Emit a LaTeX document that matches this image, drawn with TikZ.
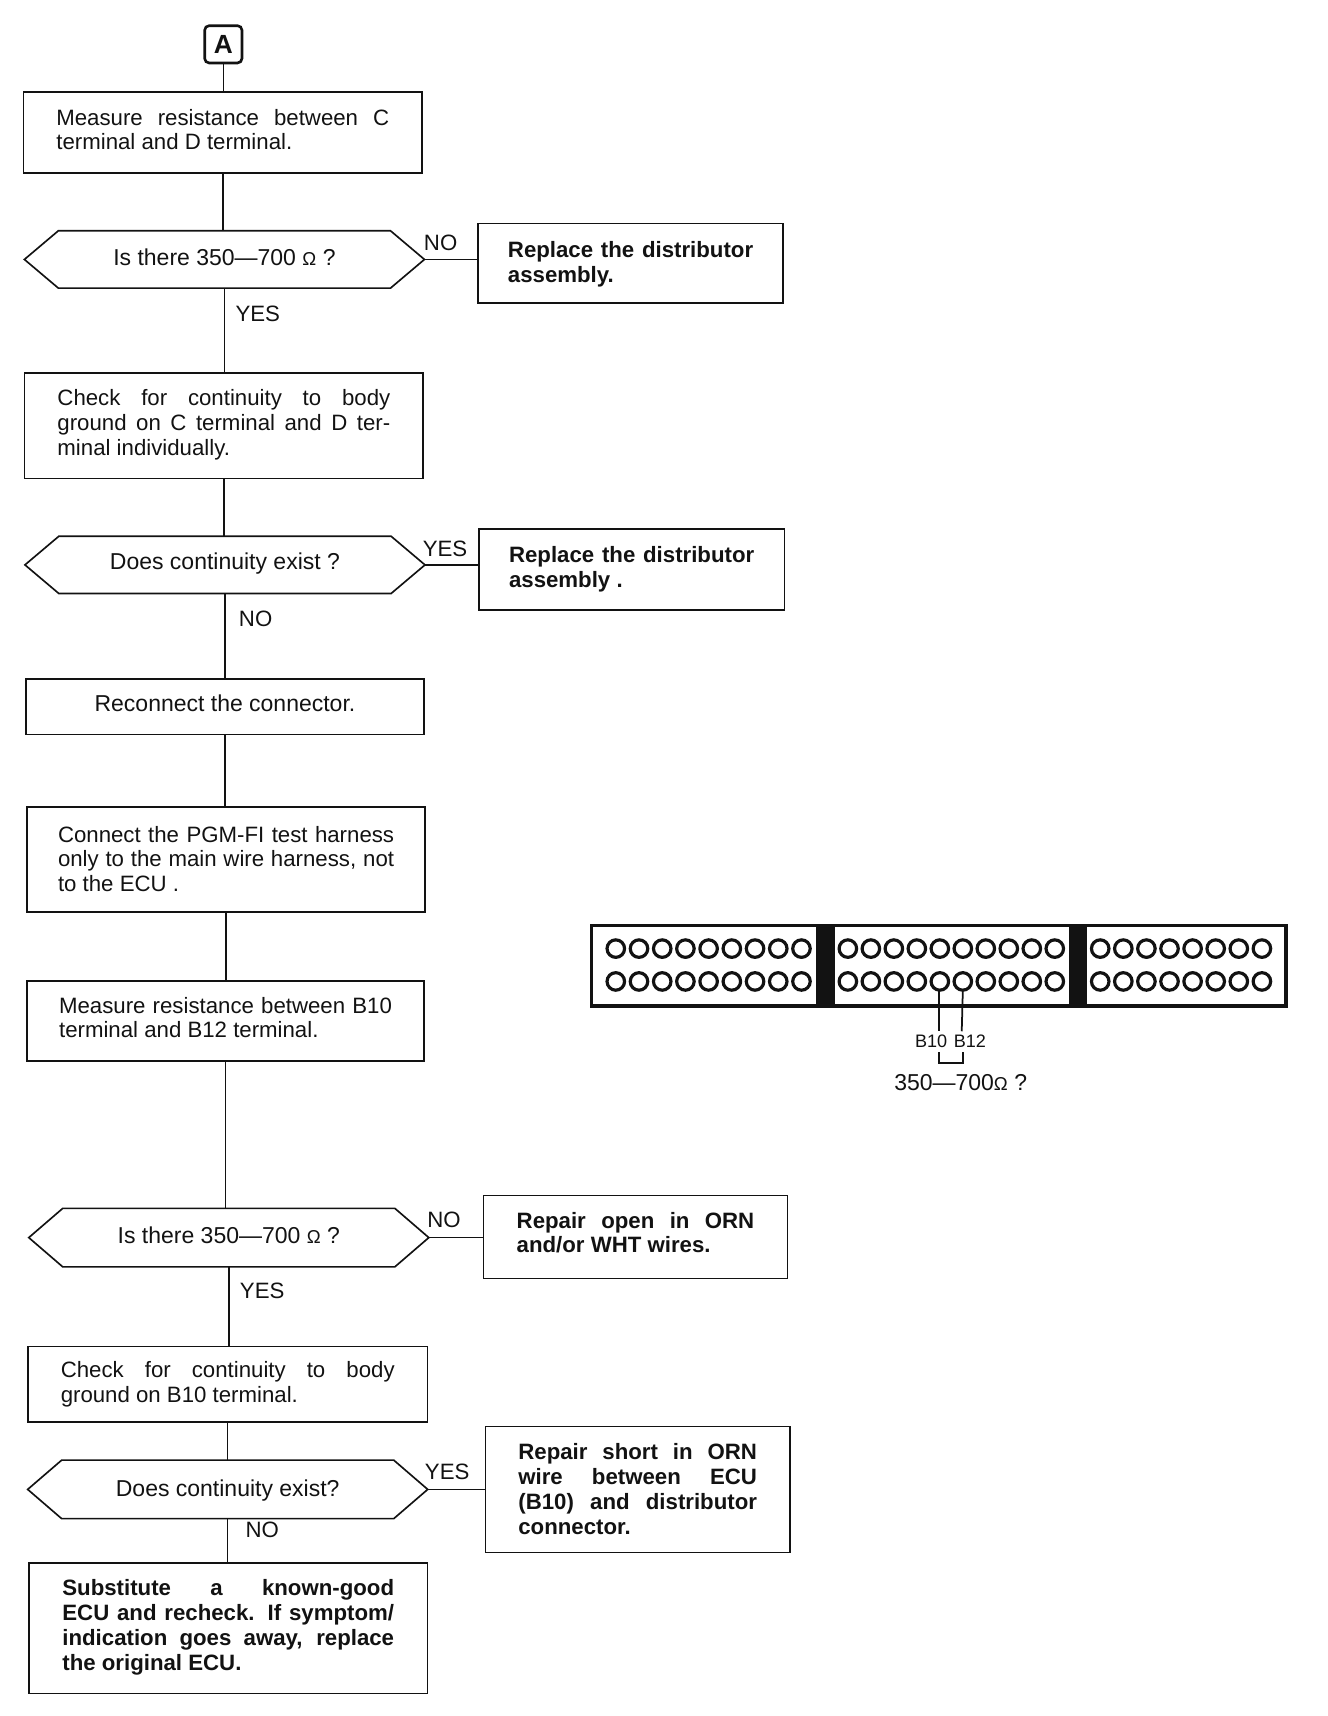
\documentclass[tikz,border=0pt]{standalone}
\usepackage{fontspec}
\setmainfont{Liberation Sans}
\definecolor{ink}{gray}{0.07}
\hyphenpenalty=10000
\tolerance=9999
\hbadness=10000
\hfuzz=4pt
\newcommand{\om}{{\fontsize{17}{17}\selectfont Ω}}
\newcommand{\up}[2]{\raisebox{#1pt}[\height][\depth]{#2}}
\newcommand{\para}[3]{\raisebox{#2pt}[\height][\depth]{\parbox[c]{#1pt}{#3}}}
\newcommand{\hexout}[1]{\draw[ink,line width=1.5pt] (#1.west) -- ([xshift=31pt]#1.north west) -- ([xshift=-31pt]#1.north east) -- (#1.east) -- ([xshift=-31pt]#1.south east) -- ([xshift=31pt]#1.south west) -- cycle;}
\tikzset{
  x=1pt,y=-1pt,
  every node/.style={text=ink},
  base/.style={font=\fontsize{20.3}{22.6}\selectfont},
  wide/.style={font=\fontsize{21}{22.6}\selectfont},
  flowbox/.style={base,draw=ink,line width=1.5pt,inner sep=0pt},
  boldbox/.style={flowbox,font=\fontsize{20.3}{22.8}\selectfont\bfseries},
  hexbox/.style={wide,inner sep=0pt,minimum width=365pt,minimum height=52pt},
  tag/.style={base,inner sep=0pt},
  small/.style={inner sep=0pt,font=\fontsize{16.5}{17}\selectfont},
  link/.style={draw=ink,line width=1.4pt},
  pinline/.style={draw=ink,line width=1.6pt},
  pin/.style={draw=ink,line width=2.9pt},
}
\begin{document}
\begin{tikzpicture}
\useasboundingbox (0.5,0) rectangle (1213.5,1567.5);
\node[draw=ink,line width=2.4pt,rounded corners=4pt,minimum width=34pt,minimum height=34pt,inner sep=0pt,font=\fontsize{24}{24}\selectfont\bfseries] (a) at (204.5,40.5) {A};
\node[flowbox,minimum width=364pt,minimum height=74pt] (b1) at (204,121) {\para{304}{2.7}{Measure resistance between C\linebreak terminal and D terminal.}};
\node[hexbox] (d1) at (205.5,237) {\up{2}{Is there 350—700 \om\ ?}};
\node[boldbox,minimum width=279pt,minimum height=73pt] (r1) at (576.5,240.5) {\para{224}{-1}{Replace the distributor\linebreak assembly.}};
\node[flowbox,minimum width=364pt,minimum height=96pt] (b2) at (205,389) {\para{304}{1}{Check for continuity to body\linebreak ground on C terminal and D ter-\linebreak minal individually.}};
\node[hexbox] (d2) at (206,516) {\up{1}{Does continuity exist ?}};
\node[boldbox,minimum width=279pt,minimum height=74pt] (r2) at (577.5,520) {\para{224}{0}{Replace the distributor\linebreak assembly .}};
\node[flowbox,wide,minimum width=364pt,minimum height=51pt] (b3) at (206,645.5) {\up{3.5}{Reconnect the connector.}};
\node[flowbox,minimum width=364pt,minimum height=96pt] (b4) at (207,785) {\para{307}{0.5}{Connect the PGM-FI test harness\linebreak only to the main wire harness, not\linebreak to the ECU .}};
\node[flowbox,minimum width=363pt,minimum height=73pt] (b5) at (206.5,932.5) {\para{304}{3}{Measure resistance between B10\linebreak terminal and B12 terminal.}};
\node[hexbox,minimum height=53pt] (d3) at (209.5,1130.5) {\up{2}{Is there 350—700 \om\ ?}};
\node[boldbox,minimum width=278pt,minimum height=76pt] (r3) at (581,1130) {\para{217}{4}{Repair open in ORN\linebreak and/or WHT wires.}};
\node[flowbox,minimum width=365pt,minimum height=69pt] (b6) at (208.5,1264.5) {\para{305}{0}{Check for continuity to body\linebreak ground on B10 terminal.}};
\node[hexbox,minimum height=53pt] (d4) at (208.5,1360.5) {\up{-1}{Does continuity exist?}};
\node[boldbox,minimum width=278pt,minimum height=115pt] (r4) at (583,1360.5) {\para{218}{0.5}{Repair short in ORN\linebreak wire between ECU\linebreak (B10) and distributor\linebreak connector.}};
\node[boldbox,minimum width=364pt,minimum height=119pt] (b7) at (209,1487.5) {\para{303}{1}{Substitute a known-good\linebreak ECU and recheck. If symptom/\linebreak indication goes away, replace\linebreak the original ECU.}};
\hexout{d1}\hexout{d2}\hexout{d3}\hexout{d4}
% labels
\node[tag] (n1) at (403,222) {NO};
\node[tag] (y1) at (236,287) {YES};
\node[tag] (y2) at (407,501) {YES};
\node[tag] (n2) at (234,565.5) {NO};
\node[tag] (n3) at (406,1114) {NO};
\node[tag] (y3) at (240,1179) {YES};
\node[tag] (y4) at (409,1344.5) {YES};
\node[tag] (n4) at (240,1397.5) {NO};
% connectors
\foreach \p/\q in {a/b1,b1/d1,d1/b2,b2/d2,d2/b3,b3/b4,b4/b5,b5/d3,d3/b6,b6/d4,d4/b7}
  \draw[link] (\p.south) -- (\p.south |- \q.north);
\foreach \p/\q in {d1/r1,d2/r2,d3/r3,d4/r4}
  \draw[link] (\p.east) -- (\p.east -| \q.west);
% connector plug
\draw[ink,line width=3.2pt] (541,845.5) rectangle (1175,919);
\fill[ink] (746,845) rectangle (763,919);
\fill[ink] (977,845) rectangle (993,919);
\foreach \y in {866.5,896.5}{
  \foreach \i in {0,...,8}
    \draw[pin] ({563+21.2*\i},\y) ellipse [x radius=8pt,y radius=8pt];
  \foreach \i in {0,...,9}
    \draw[pin] ({775+21*\i},\y) ellipse [x radius=8pt,y radius=8pt];
  \foreach \i in {0,...,7}
    \draw[pin] ({1005.5+21.1*\i},\y) ellipse [x radius=8pt,y radius=8pt];
}
\draw[pinline] (858,905) -- (858,942);
\draw[pinline] (880,905) -- (879,942);
\node[small] (lb10) at (851,951.5) {B10};
\node[small] (lb12) at (886.5,951.5) {B12};
\draw[pinline] (858,961) -- (858,971) -- (880,971) -- (880,961);
\node[wide,inner sep=0pt] (val) at (878,989) {350—700\om\ ?};
\end{tikzpicture}
\end{document}
